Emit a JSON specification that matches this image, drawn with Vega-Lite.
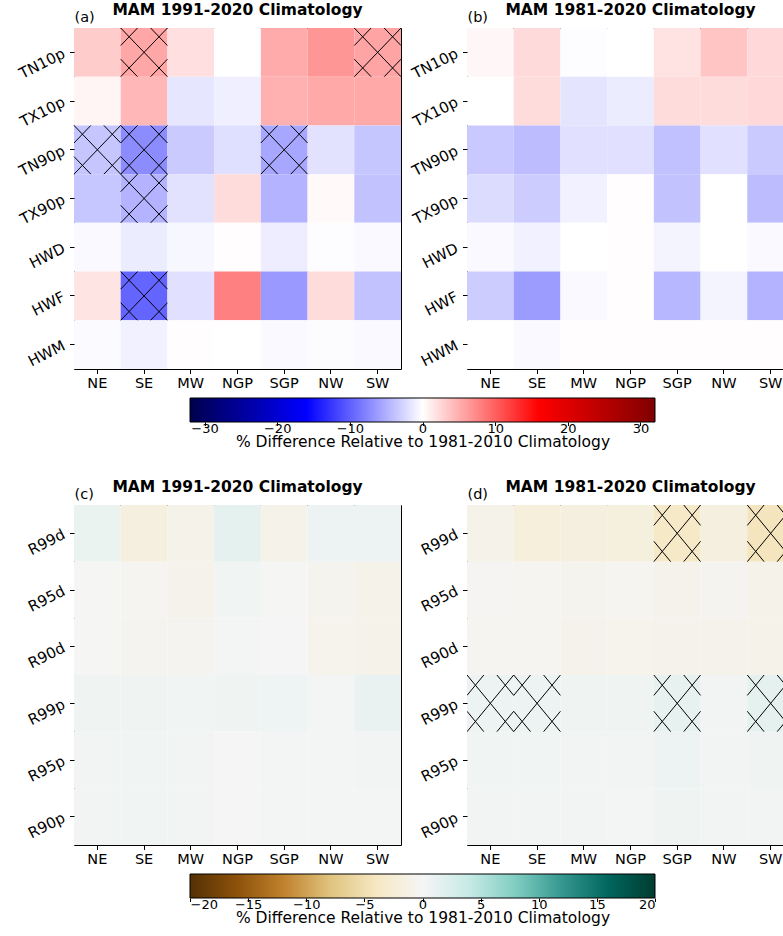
{
  "$schema": "https://vega.github.io/schema/vega-lite/v6.json",
  "padding": {"left": 16, "top": 2, "right": 0, "bottom": 0},
  "config": {
    "font": "DejaVu Sans",
    "view": {"stroke": "black", "strokeWidth": 1},
    "axis": {"labelFont": "DejaVu Sans", "labelColor": "black", "tickColor": "black", "domain": false, "grid": false, "tickSize": 4.5, "labelFontSize": 14.5, "titleColor": "black", "titleFont": "DejaVu Sans"},
    "title": {"font": "DejaVu Sans", "fontSize": 15.5, "fontWeight": "bold", "color": "black", "anchor": "middle", "offset": 4, "dy": 13}
  },
  "datasets": {
    "heatA": [
      {"region":"NE","index":"TN10p","value":3.2},{"region":"SE","index":"TN10p","value":5.6},{"region":"MW","index":"TN10p","value":2.0},{"region":"NGP","index":"TN10p","value":0.0},{"region":"SGP","index":"TN10p","value":5.3},{"region":"NW","index":"TN10p","value":6.6},{"region":"SW","index":"TN10p","value":5.7},
      {"region":"NE","index":"TX10p","value":0.6},{"region":"SE","index":"TX10p","value":4.5},{"region":"MW","index":"TX10p","value":-1.6},{"region":"NGP","index":"TX10p","value":-1.0},{"region":"SGP","index":"TX10p","value":4.9},{"region":"NW","index":"TX10p","value":5.4},{"region":"SW","index":"TX10p","value":5.4},
      {"region":"NE","index":"TN90p","value":-3.6},{"region":"SE","index":"TN90p","value":-7.2},{"region":"MW","index":"TN90p","value":-3.3},{"region":"NGP","index":"TN90p","value":-2.0},{"region":"SGP","index":"TN90p","value":-5.5},{"region":"NW","index":"TN90p","value":-1.8},{"region":"SW","index":"TN90p","value":-3.6},
      {"region":"NE","index":"TX90p","value":-3.5},{"region":"SE","index":"TX90p","value":-4.8},{"region":"MW","index":"TX90p","value":-1.8},{"region":"NGP","index":"TX90p","value":2.2},{"region":"SGP","index":"TX90p","value":-4.8},{"region":"NW","index":"TX90p","value":0.4},{"region":"SW","index":"TX90p","value":-3.8},
      {"region":"NE","index":"HWD","value":-0.4},{"region":"SE","index":"HWD","value":-1.2},{"region":"MW","index":"HWD","value":-0.5},{"region":"NGP","index":"HWD","value":0.1},{"region":"SGP","index":"HWD","value":-1.1},{"region":"NW","index":"HWD","value":-0.1},{"region":"SW","index":"HWD","value":-0.4},
      {"region":"NE","index":"HWF","value":1.7},{"region":"SE","index":"HWF","value":-9.7},{"region":"MW","index":"HWF","value":-1.9},{"region":"NGP","index":"HWF","value":8.0},{"region":"SGP","index":"HWF","value":-6.4},{"region":"NW","index":"HWF","value":2.2},{"region":"SW","index":"HWF","value":-3.8},
      {"region":"NE","index":"HWM","value":-0.3},{"region":"SE","index":"HWM","value":-0.9},{"region":"MW","index":"HWM","value":0.1},{"region":"NGP","index":"HWM","value":0.0},{"region":"SGP","index":"HWM","value":-0.4},{"region":"NW","index":"HWM","value":-0.2},{"region":"SW","index":"HWM","value":-0.4}
    ],
    "heatB": [
      {"region":"NE","index":"TN10p","value":0.5},{"region":"SE","index":"TN10p","value":2.3},{"region":"MW","index":"TN10p","value":-0.1},{"region":"NGP","index":"TN10p","value":0.0},{"region":"SGP","index":"TN10p","value":1.8},{"region":"NW","index":"TN10p","value":3.7},{"region":"SW","index":"TN10p","value":2.4},
      {"region":"NE","index":"TX10p","value":0.0},{"region":"SE","index":"TX10p","value":2.2},{"region":"MW","index":"TX10p","value":-1.7},{"region":"NGP","index":"TX10p","value":-1.2},{"region":"SGP","index":"TX10p","value":2.2},{"region":"NW","index":"TX10p","value":2.2},{"region":"SW","index":"TX10p","value":2.4},
      {"region":"NE","index":"TN90p","value":-3.4},{"region":"SE","index":"TN90p","value":-4.2},{"region":"MW","index":"TN90p","value":-1.9},{"region":"NGP","index":"TN90p","value":-1.9},{"region":"SGP","index":"TN90p","value":-3.9},{"region":"NW","index":"TN90p","value":-1.9},{"region":"SW","index":"TN90p","value":-3.3},
      {"region":"NE","index":"TX90p","value":-2.2},{"region":"SE","index":"TX90p","value":-3.2},{"region":"MW","index":"TX90p","value":-0.9},{"region":"NGP","index":"TX90p","value":0.1},{"region":"SGP","index":"TX90p","value":-3.8},{"region":"NW","index":"TX90p","value":0.0},{"region":"SW","index":"TX90p","value":-4.2},
      {"region":"NE","index":"HWD","value":-0.4},{"region":"SE","index":"HWD","value":-0.9},{"region":"MW","index":"HWD","value":0.0},{"region":"NGP","index":"HWD","value":0.1},{"region":"SGP","index":"HWD","value":-0.7},{"region":"NW","index":"HWD","value":0.0},{"region":"SW","index":"HWD","value":-0.4},
      {"region":"NE","index":"HWF","value":-3.2},{"region":"SE","index":"HWF","value":-6.2},{"region":"MW","index":"HWF","value":-0.4},{"region":"NGP","index":"HWF","value":0.1},{"region":"SGP","index":"HWF","value":-4.5},{"region":"NW","index":"HWF","value":-0.7},{"region":"SW","index":"HWF","value":-4.8},
      {"region":"NE","index":"HWM","value":0.0},{"region":"SE","index":"HWM","value":-0.4},{"region":"MW","index":"HWM","value":0.1},{"region":"NGP","index":"HWM","value":0.1},{"region":"SGP","index":"HWM","value":0.1},{"region":"NW","index":"HWM","value":0.1},{"region":"SW","index":"HWM","value":0.1}
    ],
    "heatC": [
      {"region":"NE","index":"R99d","value":0.9},{"region":"SE","index":"R99d","value":-1.7},{"region":"MW","index":"R99d","value":-1.0},{"region":"NGP","index":"R99d","value":1.4},{"region":"SGP","index":"R99d","value":-1.0},{"region":"NW","index":"R99d","value":0.7},{"region":"SW","index":"R99d","value":0.8},
      {"region":"NE","index":"R95d","value":-0.1},{"region":"SE","index":"R95d","value":-0.4},{"region":"MW","index":"R95d","value":-0.8},{"region":"NGP","index":"R95d","value":0.4},{"region":"SGP","index":"R95d","value":-0.1},{"region":"NW","index":"R95d","value":-0.6},{"region":"SW","index":"R95d","value":-1.0},
      {"region":"NE","index":"R90d","value":-0.1},{"region":"SE","index":"R90d","value":-0.5},{"region":"MW","index":"R90d","value":-0.5},{"region":"NGP","index":"R90d","value":0.2},{"region":"SGP","index":"R90d","value":0.0},{"region":"NW","index":"R90d","value":-0.7},{"region":"SW","index":"R90d","value":-0.9},
      {"region":"NE","index":"R99p","value":0.5},{"region":"SE","index":"R99p","value":0.5},{"region":"MW","index":"R99p","value":0.4},{"region":"NGP","index":"R99p","value":0.5},{"region":"SGP","index":"R99p","value":0.6},{"region":"NW","index":"R99p","value":0.2},{"region":"SW","index":"R99p","value":1.0},
      {"region":"NE","index":"R95p","value":0.3},{"region":"SE","index":"R95p","value":0.4},{"region":"MW","index":"R95p","value":0.3},{"region":"NGP","index":"R95p","value":0.0},{"region":"SGP","index":"R95p","value":0.2},{"region":"NW","index":"R95p","value":0.2},{"region":"SW","index":"R95p","value":0.3},
      {"region":"NE","index":"R90p","value":0.3},{"region":"SE","index":"R90p","value":0.4},{"region":"MW","index":"R90p","value":0.3},{"region":"NGP","index":"R90p","value":0.0},{"region":"SGP","index":"R90p","value":0.2},{"region":"NW","index":"R90p","value":0.2},{"region":"SW","index":"R90p","value":0.2}
    ],
    "heatD": [
      {"region":"NE","index":"R99d","value":-0.9},{"region":"SE","index":"R99d","value":-2.0},{"region":"MW","index":"R99d","value":-1.8},{"region":"NGP","index":"R99d","value":-1.9},{"region":"SGP","index":"R99d","value":-3.6},{"region":"NW","index":"R99d","value":-1.7},{"region":"SW","index":"R99d","value":-4.3},
      {"region":"NE","index":"R95d","value":-0.2},{"region":"SE","index":"R95d","value":-0.4},{"region":"MW","index":"R95d","value":-0.6},{"region":"NGP","index":"R95d","value":-0.4},{"region":"SGP","index":"R95d","value":-0.8},{"region":"NW","index":"R95d","value":-0.5},{"region":"SW","index":"R95d","value":-1.0},
      {"region":"NE","index":"R90d","value":-0.3},{"region":"SE","index":"R90d","value":-0.4},{"region":"MW","index":"R90d","value":-0.8},{"region":"NGP","index":"R90d","value":-0.7},{"region":"SGP","index":"R90d","value":-0.8},{"region":"NW","index":"R90d","value":-0.8},{"region":"SW","index":"R90d","value":-1.0},
      {"region":"NE","index":"R99p","value":0.7},{"region":"SE","index":"R99p","value":0.8},{"region":"MW","index":"R99p","value":0.5},{"region":"NGP","index":"R99p","value":0.5},{"region":"SGP","index":"R99p","value":1.3},{"region":"NW","index":"R99p","value":0.3},{"region":"SW","index":"R99p","value":1.5},
      {"region":"NE","index":"R95p","value":0.4},{"region":"SE","index":"R95p","value":0.4},{"region":"MW","index":"R95p","value":0.3},{"region":"NGP","index":"R95p","value":0.3},{"region":"SGP","index":"R95p","value":0.7},{"region":"NW","index":"R95p","value":0.3},{"region":"SW","index":"R95p","value":0.5},
      {"region":"NE","index":"R90p","value":0.3},{"region":"SE","index":"R90p","value":0.3},{"region":"MW","index":"R90p","value":0.3},{"region":"NGP","index":"R90p","value":0.2},{"region":"SGP","index":"R90p","value":0.5},{"region":"NW","index":"R90p","value":0.3},{"region":"SW","index":"R90p","value":0.3}
    ],
    "hatchA": [
      {"region":"SE","index":"TN10p"},{"region":"SW","index":"TN10p"},{"region":"NE","index":"TN90p"},{"region":"SE","index":"TN90p"},{"region":"SGP","index":"TN90p"},{"region":"SE","index":"TX90p"},{"region":"SE","index":"HWF"}
    ],
    "hatchD": [
      {"region":"SGP","index":"R99d"},{"region":"SW","index":"R99d"},{"region":"NE","index":"R99p"},{"region":"SE","index":"R99p"},{"region":"SGP","index":"R99p"},{"region":"SW","index":"R99p"}
    ],
    "cbar1": [{"lo": -32, "hi": 32}],
    "cbar2": [{"lo": -20, "hi": 20}]
  },
  "concat": [
    {
      "width": 327, "height": 341,
      "title": {"text": "MAM 1991-2020 Climatology"},
      "layer": [
        {"data": {"name": "heatA"}, "mark": {"type": "rect"},
         "encoding": {
           "x": {"field": "region", "type": "nominal", "scale": {"domain": ["NE","SE","MW","NGP","SGP","NW","SW"], "paddingInner": 0, "paddingOuter": 0}, "axis": {"title": null, "labelAngle": 0, "labelPadding": 3}},
           "y": {"field": "index", "type": "nominal", "scale": {"domain": ["TN10p","TX10p","TN90p","TX90p","HWD","HWF","HWM"], "paddingInner": 0, "paddingOuter": 0}, "axis": {"title": "(a)", "labelAngle": -27, "labelAlign": "right", "labelBaseline": "middle", "labelPadding": 6, "labelFontSize": 15, "titleAngle": 0, "titleX": 0, "titleY": -7, "titleAlign": "left", "titleBaseline": "alphabetic", "titleFontWeight": "normal", "titleFontSize": 14.5}},
           "color": {"field": "value", "type": "quantitative", "scale": {"domain": [-32,-16,0,16,32], "range": ["#00004d","#0000ff","#ffffff","#ff0000","#800000"], "interpolate": "rgb"}, "legend": null}
         }},
        {"data": {"name": "hatchA"}, "mark": {"type": "rule", "color": "black", "strokeWidth": 1},
         "encoding": {"x": {"field": "region", "type": "nominal", "bandPosition": 0, "title": null}, "x2": {"field": "region", "bandPosition": 1}, "y": {"field": "index", "type": "nominal", "bandPosition": 0, "title": "(a)"}, "y2": {"field": "index", "bandPosition": 1}}},
        {"data": {"name": "hatchA"}, "mark": {"type": "rule", "color": "black", "strokeWidth": 1},
         "encoding": {"x": {"field": "region", "type": "nominal", "bandPosition": 1, "title": null}, "x2": {"field": "region", "bandPosition": 0}, "y": {"field": "index", "type": "nominal", "bandPosition": 0, "title": "(a)"}, "y2": {"field": "index", "bandPosition": 1}}},
        {"data": {"name": "hatchA"}, "mark": {"type": "rule", "color": "black", "strokeWidth": 1},
         "encoding": {"x": {"field": "region", "type": "nominal", "bandPosition": 0.64, "title": null}, "x2": {"field": "region", "bandPosition": 1}, "y": {"field": "index", "type": "nominal", "bandPosition": 0, "title": "(a)"}, "y2": {"field": "index", "bandPosition": 0.36}}},
        {"data": {"name": "hatchA"}, "mark": {"type": "rule", "color": "black", "strokeWidth": 1},
         "encoding": {"x": {"field": "region", "type": "nominal", "bandPosition": 0, "title": null}, "x2": {"field": "region", "bandPosition": 0.36}, "y": {"field": "index", "type": "nominal", "bandPosition": 0.64, "title": "(a)"}, "y2": {"field": "index", "bandPosition": 1}}},
        {"data": {"name": "hatchA"}, "mark": {"type": "rule", "color": "black", "strokeWidth": 1},
         "encoding": {"x": {"field": "region", "type": "nominal", "bandPosition": 0.36, "title": null}, "x2": {"field": "region", "bandPosition": 0}, "y": {"field": "index", "type": "nominal", "bandPosition": 0, "title": "(a)"}, "y2": {"field": "index", "bandPosition": 0.36}}},
        {"data": {"name": "hatchA"}, "mark": {"type": "rule", "color": "black", "strokeWidth": 1},
         "encoding": {"x": {"field": "region", "type": "nominal", "bandPosition": 1, "title": null}, "x2": {"field": "region", "bandPosition": 0.64}, "y": {"field": "index", "type": "nominal", "bandPosition": 0.64, "title": "(a)"}, "y2": {"field": "index", "bandPosition": 1}}}
      ]
    },
    {
      "width": 317, "height": 341,
      "title": {"text": "MAM 1981-2020 Climatology", "dx": 5},
      "data": {"name": "heatB"},
      "mark": {"type": "rect", "clip": true},
      "encoding": {
        "x": {"field": "region", "type": "nominal", "scale": {"domain": ["NE","SE","MW","NGP","SGP","NW","SW"], "range": [0, 327], "paddingInner": 0, "paddingOuter": 0}, "axis": {"title": null, "labelAngle": 0, "labelPadding": 3}},
        "y": {"field": "index", "type": "nominal", "scale": {"domain": ["TN10p","TX10p","TN90p","TX90p","HWD","HWF","HWM"], "paddingInner": 0, "paddingOuter": 0}, "axis": {"title": "(b)", "labelAngle": -27, "labelAlign": "right", "labelBaseline": "middle", "labelPadding": 6, "labelFontSize": 15, "titleAngle": 0, "titleX": 0, "titleY": -7, "titleAlign": "left", "titleBaseline": "alphabetic", "titleFontWeight": "normal", "titleFontSize": 14.5}},
        "color": {"field": "value", "type": "quantitative", "scale": {"domain": [-32,-16,0,16,32], "range": ["#00004d","#0000ff","#ffffff","#ff0000","#800000"], "interpolate": "rgb"}, "legend": null}
      }
    },
    {
      "width": 327, "height": 24,
      "view": {"stroke": null},
      "data": {"name": "cbar1"},
      "mark": {"type": "rect", "stroke": "black", "strokeWidth": 1, "fill": {"gradient": "linear", "x1": 0, "x2": 1, "y1": 0, "y2": 0, "stops": [{"offset": 0, "color": "#00004d"}, {"offset": 0.25, "color": "#0000ff"}, {"offset": 0.5, "color": "#ffffff"}, {"offset": 0.75, "color": "#ff0000"}, {"offset": 1, "color": "#800000"}]}},
      "encoding": {
        "x": {"field": "lo", "type": "quantitative", "scale": {"domain": [-32, 32], "range": [116, 581], "nice": false, "zero": false}, "axis": {"values": [-30,-20,-10,0,10,20,30], "title": "% Difference Relative to 1981-2010 Climatology", "titleFontSize": 15.5, "titleFontWeight": "normal", "labelFontSize": 13, "tickSize": 3.5, "labelPadding": -3, "titlePadding": -1}},
        "x2": {"field": "hi"}
      }
    },
    {
      "width": 10, "height": 78,
      "view": {"stroke": null},
      "data": {"values": []},
      "mark": "rect",
      "encoding": {}
    },
    {
      "width": 327, "height": 340,
      "title": {"text": "MAM 1991-2020 Climatology"},
      "data": {"name": "heatC"},
      "mark": {"type": "rect"},
      "encoding": {
        "x": {"field": "region", "type": "nominal", "scale": {"domain": ["NE","SE","MW","NGP","SGP","NW","SW"], "paddingInner": 0, "paddingOuter": 0}, "axis": {"title": null, "labelAngle": 0, "labelPadding": 3}},
        "y": {"field": "index", "type": "nominal", "scale": {"domain": ["R99d","R95d","R90d","R99p","R95p","R90p"], "paddingInner": 0, "paddingOuter": 0}, "axis": {"title": "(c)", "labelAngle": -27, "labelAlign": "right", "labelBaseline": "middle", "labelPadding": 6, "labelFontSize": 15, "titleAngle": 0, "titleX": 0, "titleY": -7, "titleAlign": "left", "titleBaseline": "alphabetic", "titleFontWeight": "normal", "titleFontSize": 14.5}},
        "color": {"field": "value", "type": "quantitative", "scale": {"domain": [-20,-16,-12,-8,-4,0,4,8,12,16,20], "range": ["#543005","#8c510a","#bf812d","#dfc27d","#f6e8c3","#f5f5f5","#c7eae5","#80cdc1","#35978f","#01665e","#003c30"], "interpolate": "rgb"}, "legend": null}
      }
    },
    {
      "width": 317, "height": 340,
      "title": {"text": "MAM 1981-2020 Climatology", "dx": 5},
      "layer": [
        {"data": {"name": "heatD"}, "mark": {"type": "rect", "clip": true},
         "encoding": {
           "x": {"field": "region", "type": "nominal", "scale": {"domain": ["NE","SE","MW","NGP","SGP","NW","SW"], "range": [0, 327], "paddingInner": 0, "paddingOuter": 0}, "axis": {"title": null, "labelAngle": 0, "labelPadding": 3}},
           "y": {"field": "index", "type": "nominal", "scale": {"domain": ["R99d","R95d","R90d","R99p","R95p","R90p"], "paddingInner": 0, "paddingOuter": 0}, "axis": {"title": "(d)", "labelAngle": -27, "labelAlign": "right", "labelBaseline": "middle", "labelPadding": 6, "labelFontSize": 15, "titleAngle": 0, "titleX": 0, "titleY": -7, "titleAlign": "left", "titleBaseline": "alphabetic", "titleFontWeight": "normal", "titleFontSize": 14.5}},
           "color": {"field": "value", "type": "quantitative", "scale": {"domain": [-20,-16,-12,-8,-4,0,4,8,12,16,20], "range": ["#543005","#8c510a","#bf812d","#dfc27d","#f6e8c3","#f5f5f5","#c7eae5","#80cdc1","#35978f","#01665e","#003c30"], "interpolate": "rgb"}, "legend": null}
         }},
        {"data": {"name": "hatchD"}, "mark": {"type": "rule", "color": "black", "strokeWidth": 1, "clip": true},
         "encoding": {"x": {"field": "region", "type": "nominal", "bandPosition": 0, "title": null}, "x2": {"field": "region", "bandPosition": 1}, "y": {"field": "index", "type": "nominal", "bandPosition": 0, "title": "(d)"}, "y2": {"field": "index", "bandPosition": 1}}},
        {"data": {"name": "hatchD"}, "mark": {"type": "rule", "color": "black", "strokeWidth": 1, "clip": true},
         "encoding": {"x": {"field": "region", "type": "nominal", "bandPosition": 1, "title": null}, "x2": {"field": "region", "bandPosition": 0}, "y": {"field": "index", "type": "nominal", "bandPosition": 0, "title": "(d)"}, "y2": {"field": "index", "bandPosition": 1}}},
        {"data": {"name": "hatchD"}, "mark": {"type": "rule", "color": "black", "strokeWidth": 1, "clip": true},
         "encoding": {"x": {"field": "region", "type": "nominal", "bandPosition": 0.64, "title": null}, "x2": {"field": "region", "bandPosition": 1}, "y": {"field": "index", "type": "nominal", "bandPosition": 0, "title": "(d)"}, "y2": {"field": "index", "bandPosition": 0.36}}},
        {"data": {"name": "hatchD"}, "mark": {"type": "rule", "color": "black", "strokeWidth": 1, "clip": true},
         "encoding": {"x": {"field": "region", "type": "nominal", "bandPosition": 0, "title": null}, "x2": {"field": "region", "bandPosition": 0.36}, "y": {"field": "index", "type": "nominal", "bandPosition": 0.64, "title": "(d)"}, "y2": {"field": "index", "bandPosition": 1}}},
        {"data": {"name": "hatchD"}, "mark": {"type": "rule", "color": "black", "strokeWidth": 1, "clip": true},
         "encoding": {"x": {"field": "region", "type": "nominal", "bandPosition": 0.36, "title": null}, "x2": {"field": "region", "bandPosition": 0}, "y": {"field": "index", "type": "nominal", "bandPosition": 0, "title": "(d)"}, "y2": {"field": "index", "bandPosition": 0.36}}},
        {"data": {"name": "hatchD"}, "mark": {"type": "rule", "color": "black", "strokeWidth": 1, "clip": true},
         "encoding": {"x": {"field": "region", "type": "nominal", "bandPosition": 1, "title": null}, "x2": {"field": "region", "bandPosition": 0.64}, "y": {"field": "index", "type": "nominal", "bandPosition": 0.64, "title": "(d)"}, "y2": {"field": "index", "bandPosition": 1}}}
      ]
    },
    {
      "width": 327, "height": 24,
      "view": {"stroke": null},
      "data": {"name": "cbar2"},
      "mark": {"type": "rect", "stroke": "black", "strokeWidth": 1, "fill": {"gradient": "linear", "x1": 0, "x2": 1, "y1": 0, "y2": 0, "stops": [{"offset": 0, "color": "#543005"}, {"offset": 0.1, "color": "#8c510a"}, {"offset": 0.2, "color": "#bf812d"}, {"offset": 0.3, "color": "#dfc27d"}, {"offset": 0.4, "color": "#f6e8c3"}, {"offset": 0.5, "color": "#f5f5f5"}, {"offset": 0.6, "color": "#c7eae5"}, {"offset": 0.7, "color": "#80cdc1"}, {"offset": 0.8, "color": "#35978f"}, {"offset": 0.9, "color": "#01665e"}, {"offset": 1, "color": "#003c30"}]}},
      "encoding": {
        "x": {"field": "lo", "type": "quantitative", "scale": {"domain": [-20, 20], "range": [116, 581], "nice": false, "zero": false}, "axis": {"values": [-20,-15,-10,-5,0,5,10,15,20], "title": "% Difference Relative to 1981-2010 Climatology", "titleFontSize": 15.5, "titleFontWeight": "normal", "labelFontSize": 13, "tickSize": 3.5, "labelPadding": -3, "titlePadding": -1}},
        "x2": {"field": "hi"}
      }
    }
  ],
  "columns": 2,
  "align": "each",
  "bounds": "flush",
  "spacing": {"row": 29, "column": 66},
  "resolve": {"scale": {"color": "independent"}}
}
